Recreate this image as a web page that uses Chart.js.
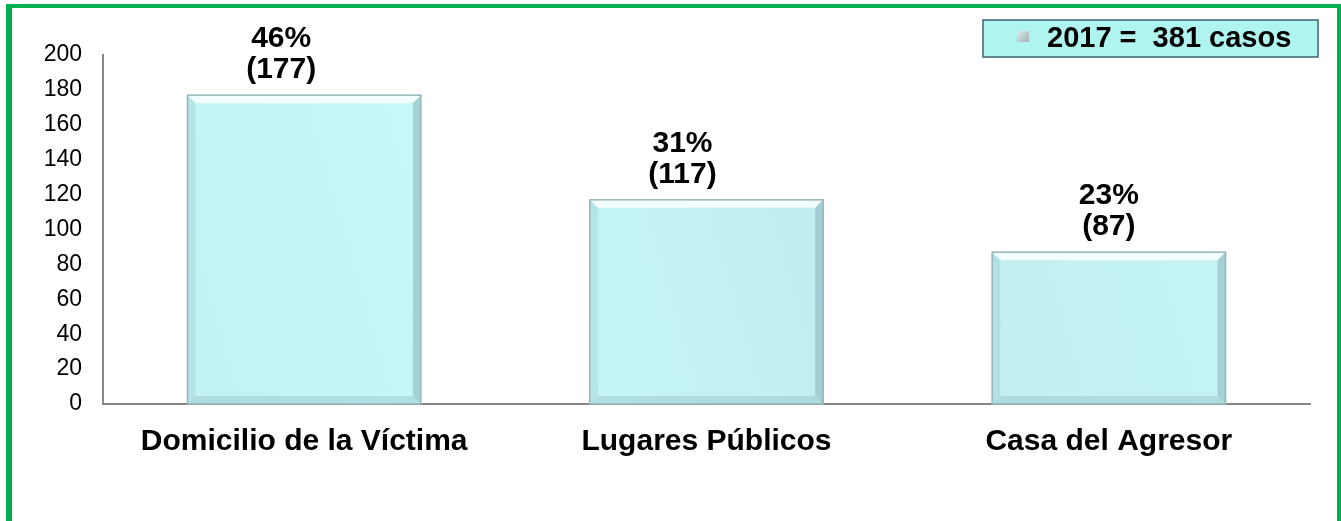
<!DOCTYPE html>
<html>
<head>
<meta charset="utf-8">
<script src="https://cdn.jsdelivr.net/npm/chart.js@4.4.0/dist/chart.umd.min.js"></script>
<style>
  html, body { margin: 0; padding: 0; background: #ffffff; }
  #wrap { position: relative; width: 1341px; height: 521px; overflow: hidden; }
  #frame { position: absolute; left: 6px; top: 4px; width: 1325px; height: 540px;
           border-left: 6px solid #00b050; border-top: 4px solid #00b050; border-right: 4px solid #00b050; }
  canvas { position: absolute; left: 0; top: 0; }
</style>
</head>
<body>
<div id="wrap">
  <div id="frame"></div>
  <canvas id="c" width="1341" height="521"></canvas>
</div>
<script>
const categories = ['Domicilio de la Víctima', 'Lugares Públicos', 'Casa del Agresor'];
const values = [177, 117, 87];
const percentLabels = ['46%', '31%', '23%'];
const seriesLabel = '2017 =  381 casos';
const yTicks = [0, 20, 40, 60, 80, 100, 120, 140, 160, 180, 200];

const FONT = "'Liberation Sans', Arial, sans-serif";

const barFill = (ctx) => {
  const chart = ctx.chart;
  const area = chart.chartArea;
  if (!area) return '#c2f0f3';
  const g = chart.ctx.createLinearGradient(area.left, area.bottom, area.right, area.top);
  g.addColorStop(0, '#c0eff2');
  g.addColorStop(0.3, '#c8f8fa');
  g.addColorStop(0.6, '#bfecef');
  g.addColorStop(1, '#c6f6f8');
  return g;
};

const bevelPlugin = {
  id: 'bevel',
  afterDatasetsDraw(chart) {
    const ctx = chart.ctx;
    const meta = chart.getDatasetMeta(0);
    meta.data.forEach((bar) => {
      const p = bar.getProps(['x', 'y', 'base', 'width'], true);
      const l = p.x - p.width / 2, r = p.x + p.width / 2, t = p.y, b = p.base;
      const d = 8;
      ctx.save();
      ctx.fillStyle = 'rgba(248,255,255,0.9)';
      ctx.beginPath();
      ctx.moveTo(l, t); ctx.lineTo(r, t); ctx.lineTo(r - d, t + d); ctx.lineTo(l + d, t + d); ctx.closePath(); ctx.fill();
      ctx.fillStyle = 'rgba(160,205,210,0.4)';
      ctx.beginPath();
      ctx.moveTo(l, t); ctx.lineTo(l + d, t + d); ctx.lineTo(l + d, b - d); ctx.lineTo(l, b); ctx.closePath(); ctx.fill();
      ctx.fillStyle = 'rgba(130,175,180,0.5)';
      ctx.beginPath();
      ctx.moveTo(r, t); ctx.lineTo(r - d, t + d); ctx.lineTo(r - d, b - d); ctx.lineTo(r, b); ctx.closePath(); ctx.fill();
      ctx.fillStyle = 'rgba(150,195,200,0.45)';
      ctx.beginPath();
      ctx.moveTo(l, b); ctx.lineTo(l + d, b - d); ctx.lineTo(r - d, b - d); ctx.lineTo(r, b); ctx.closePath(); ctx.fill();
      ctx.strokeStyle = '#93b6b9';
      ctx.lineWidth = 1.5;
      ctx.strokeRect(l, t, r - l, b - t);
      ctx.restore();
    });
  }
};

const labelPlugin = {
  id: 'valueLabels',
  afterDatasetsDraw(chart, args, opts) {
    const ctx = chart.ctx;
    const meta = chart.getDatasetMeta(0);
    const shifts = opts.shifts || [];
    ctx.save();
    ctx.fillStyle = '#000';
    ctx.font = 'bold 30px ' + FONT;
    ctx.textAlign = 'center';
    ctx.textBaseline = 'alphabetic';
    meta.data.forEach((bar, i) => {
      const v = chart.data.datasets[0].data[i];
      const x = bar.x + (shifts[i] || 0);
      ctx.fillText('(' + v + ')', x, bar.y - 17);
      ctx.fillText(percentLabels[i], x, bar.y - 48);
    });
    ctx.restore();
  }
};

const legendPlugin = {
  id: 'boxLegend',
  afterDraw(chart) {
    const ctx = chart.ctx;
    ctx.save();
    ctx.fillStyle = '#b0f4f0';
    ctx.fillRect(983, 20, 335, 37);
    ctx.strokeStyle = '#3d6470';
    ctx.lineWidth = 1.5;
    ctx.strokeRect(983, 20, 335, 37);
    const g = ctx.createLinearGradient(1017, 30, 1029, 42);
    g.addColorStop(0, '#e2eaec');
    g.addColorStop(1, '#9fb3b8');
    ctx.fillStyle = g;
    ctx.fillRect(1017, 31, 12, 11);
    ctx.fillStyle = '#000';
    ctx.font = 'bold 29px ' + FONT;
    ctx.textAlign = 'left';
    ctx.textBaseline = 'alphabetic';
    ctx.fillText(chart.data.datasets[0].label, 1047, 47);
    ctx.restore();
  }
};

new Chart(document.getElementById('c'), {
  type: 'bar',
  data: {
    labels: categories,
    datasets: [{
      label: seriesLabel,
      data: values,
      backgroundColor: barFill,
      borderWidth: 0,
      categoryPercentage: 1.0,
      barPercentage: 0.58
    }]
  },
  options: {
    responsive: false,
    animation: false,
    layout: { padding: { top: 55, right: 31, bottom: 0, left: 0 } },
    plugins: {
      legend: { display: false },
      tooltip: { enabled: false },
      valueLabels: { shifts: [-23, -24, 0] }
    },
    scales: {
      y: {
        min: 0, max: 200,
        afterBuildTicks(scale) { scale.ticks = yTicks.map(v => ({ value: v })); },
        afterFit(scale) { scale.width = 103; },
        grid: { display: false, drawTicks: false },
        border: { display: true, color: '#878787', width: 2 },
        ticks: { padding: 21, color: '#000', font: { family: FONT, size: 23 } }
      },
      x: {
        afterFit(scale) { scale.height = 117; },
        grid: { display: false, drawTicks: false },
        border: { display: true, color: '#878787', width: 2 },
        ticks: { padding: 20, color: '#000', font: { family: FONT, size: 30, weight: 'bold' } }
      }
    }
  },
  plugins: [bevelPlugin, labelPlugin, legendPlugin]
});
</script>
</body>
</html>
